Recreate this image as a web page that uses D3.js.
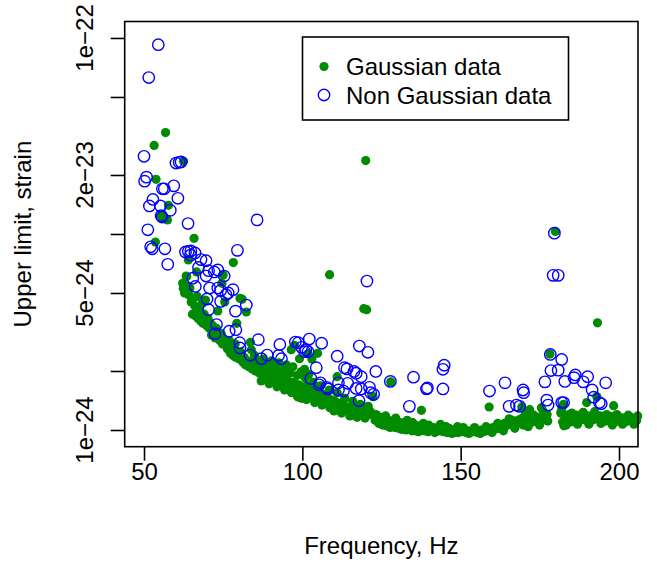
<!DOCTYPE html>
<html><head><meta charset="utf-8">
<script src="https://cdn.jsdelivr.net/npm/d3@7"></script>
<style>body{margin:0;background:#fff} svg{display:block}</style>
</head><body><svg id="c" width="657" height="565"></svg>
<script>
// values in units of 1e-24 strain
const UNIT = 1e-24;

// Gaussian data: isolated points
const gaussOutFreq = [56.8,53.2,53.8,57.7,55.4,55.6,55.8,57.4,53.6,62.5,
  65.8,78.2,64.0,63.5,75.0,74.6,120.0,108.6,119.4,120.3,
  193.2,179.9,178.2,127.9,137.6,159.0,169.3,198.3,189.8,193.0,
  122.3,111.0,104.8,96.5,99.1,100.7,97.5,101.8,103.0,81.0,
  82.3,79.3,73.3,75.5,83.6,83.9,77.0,80.3,62.4,66.6,
  78.8,84.9,87.6,90.3,92.6,94.9,97.0,99.6,102.0];
const gaussOutVal = [32.9,28.3,19.0,14.0,12.4,12.2,12.5,11.8,9.1,23.5,
  9.5,7.15,7.37,6.06,6.18,5.6,23.7,6.2,4.16,4.11,
  3.52,10.3,2.44,1.76,1.26,1.31,1.31,1.33,1.38,1.48,
  1.48,1.87,2.46,2.57,2.31,2.04,2.7,2.45,2.3,4.65,
  4.0,3.5,4.05,4.5,2.8,2.57,2.85,4.7,5.28,6.4,
  2.75,2.4,2.3,2.25,2.2,2.15,2.1,1.98,1.92];

// Gaussian data: main band below 122 Hz
const gaussLowFreq = [62.2,62.8,63.3,63.6,64.1,64.5,64.9,65.3,65.6,66.0,
  66.4,66.8,67.1,67.5,67.9,68.3,68.6,69.0,69.4,69.8,
  70.2,70.6,71.0,71.3,71.7,72.1,72.5,72.9,73.6,74.0,
  74.4,74.8,75.2,75.9,76.3,76.7,77.3,77.7,78.1,78.5,
  78.9,79.7,80.1,80.5,81.2,81.6,82.0,82.7,83.1,84.2,
  84.6,85.2,85.6,86.0,86.5,86.9,87.4,87.8,88.3,88.7,
  89.2,89.7,90.1,90.5,91.0,91.4,91.8,92.3,92.8,93.2,
  93.7,94.1,94.6,95.0,95.4,95.8,96.3,96.8,97.2,97.7,
  98.1,98.5,98.9,99.4,99.8,100.2,101.0,101.5,101.9,102.4,
  102.8,103.2,103.7,104.1,105.1,105.5,106.0,106.4,106.9,107.3,
  107.8,108.2,109.0,109.4,109.9,110.3,110.7,111.3,111.8,112.2,
  112.7,113.1,113.6,114.0,114.3,114.8,115.2,115.7,116.3,116.7,
  117.1,117.6,118.0,118.5,119.0,119.6,120.1,120.6,121.1,121.5,
  122.0,
  86.2,88.9,91.2,93.9,96.0,98.4,100.9,103.4,105.8,108.5,
  111.0,113.4,115.9,118.3,120.8,
  87.0,89.5,92.0,94.4,96.6,99.0,101.3,103.9,106.2,108.7,
  110.0,112.4,115.0,117.3,119.8];
const gaussLowVal = [5.6,5.0,6.1,5.4,4.9,5.3,4.5,3.9,4.7,4.3,
  3.8,4.8,3.7,4.1,3.6,4.4,3.5,3.9,4.6,3.4,
  3.7,3.3,3.5,3.05,3.4,3.2,2.95,3.3,3.0,2.85,
  3.1,2.75,2.9,2.7,2.6,2.8,2.46,2.55,2.4,2.6,
  2.35,2.45,2.3,2.5,2.22,2.35,2.15,2.25,2.1,2.05,
  2.2,2.0,2.12,1.98,1.95,2.1,1.92,2.05,1.9,2.0,
  1.87,1.95,1.85,1.79,1.95,1.82,2.04,1.8,1.9,1.76,
  1.85,1.72,1.82,1.7,1.78,1.99,1.68,1.75,1.65,1.72,
  1.62,1.48,1.7,1.6,1.45,1.66,1.58,1.68,1.55,1.52,
  1.62,1.5,1.6,1.47,1.42,1.55,1.45,1.52,1.4,1.48,
  1.38,1.45,1.31,1.42,1.35,1.4,1.32,1.37,1.3,1.35,
  1.28,1.33,1.27,1.31,1.26,1.3,1.24,1.28,1.23,1.27,
  1.22,1.26,1.24,1.2,1.25,1.22,1.19,1.23,1.2,1.24,
  1.21,
  2.25,2.15,2.1,2.0,1.95,1.9,1.85,1.75,1.68,1.6,
  1.55,1.45,1.4,1.35,1.32,
  1.78,1.72,1.66,1.6,1.55,1.47,1.43,1.38,1.34,1.3,
  1.25,1.22,1.18,1.16,1.15];

// Gaussian data: main band above 122 Hz
const gaussHighFreq = [123.0,123.6,124.2,124.8,125.4,126.0,126.6,127.2,128.0,128.6,
  129.2,129.8,130.4,131.0,131.6,132.2,132.8,133.4,134.0,134.6,
  135.2,135.8,136.4,137.0,137.9,138.5,139.1,139.7,140.3,140.9,
  141.5,142.1,142.7,143.3,143.9,144.5,145.1,145.7,146.3,146.9,
  147.5,148.1,148.7,149.3,149.9,150.5,151.1,151.7,152.3,152.9,
  153.5,154.1,154.7,155.3,155.9,156.5,157.1,157.7,158.3,159.0,
  159.6,160.2,160.8,161.4,162.0,162.6,163.2,163.8,164.4,165.0,
  165.6,166.2,166.8,167.4,168.0,168.6,169.2,169.8,170.4,171.0,
  171.6,172.2,172.8,173.4,174.0,174.6,175.2,175.8,176.4,177.0,
  177.5,181.6,182.0,182.2,182.6,183.0,183.6,184.2,184.8,185.4,
  186.0,186.6,187.2,187.8,188.4,189.0,189.6,190.2,190.8,191.4,
  192.0,192.6,193.4,194.0,194.6,195.2,195.8,196.4,197.0,197.6,
  198.4,199.0,199.6,200.2,200.8,201.4,202.0,202.6,203.2,203.8,
  204.4,205.0,205.6,
  123.3,124.9,126.3,127.7,129.5,131.3,133.1,134.9,136.7,138.2,
  139.9,141.8,143.6,145.4,147.2,149.0,150.8,152.6,154.4,156.2,
  158.0,159.9,161.7,163.5,165.3,167.1,169.5,171.3,173.1,174.9,
  176.7,177.3,181.8,182.4,183.3,185.1,186.9,188.7,190.5,192.3,
  194.3,196.1,197.9,199.3,201.1,202.9,204.7,205.9,
  170.5,171.8,175.5,176.0];
const gaussHighVal = [1.12,1.18,1.08,1.16,1.06,1.14,1.05,1.12,1.04,1.11,
  1.03,1.1,1.02,1.09,1.01,1.08,1.0,1.07,1.03,0.99,
  1.06,0.99,1.05,1.0,1.04,0.99,1.03,0.98,1.04,1.0,
  1.03,0.98,1.02,0.99,1.03,0.98,1.01,0.97,1.02,0.98,
  1.0,0.97,1.01,0.97,0.99,0.98,1.0,0.97,0.99,0.97,
  0.99,0.98,1.0,0.97,0.99,1.0,0.98,1.01,0.99,1.02,
  1.0,1.03,1.01,1.05,1.02,1.06,1.03,1.08,1.05,1.1,
  1.07,1.12,1.06,1.11,1.08,1.13,1.09,1.06,1.11,1.08,
  1.13,1.09,1.15,1.11,1.16,1.1,1.14,1.12,1.17,1.13,
  1.11,1.22,1.3,1.1,1.05,1.18,1.12,1.2,1.1,1.16,
  1.12,1.19,1.11,1.17,1.13,1.2,1.12,1.18,1.11,1.16,
  1.13,1.2,1.14,1.18,1.12,1.17,1.11,1.15,1.12,1.17,
  1.1,1.15,1.11,1.16,1.12,1.15,1.1,1.14,1.12,1.16,
  1.11,1.14,1.12,
  1.2,1.1,1.18,1.03,1.15,1.01,1.12,1.09,0.98,1.08,
  1.06,0.97,1.07,1.04,0.96,1.04,1.03,0.96,1.03,0.96,
  1.04,0.97,1.08,0.99,1.14,1.02,1.15,1.04,1.19,1.06,
  1.21,1.2,1.25,1.35,1.06,1.22,1.07,1.23,1.07,1.24,
  1.08,1.2,1.06,1.2,1.07,1.19,1.07,1.18,
  1.22,1.27,1.3,1.25];

// Non Gaussian data
const nonGaussFreq = [54.5,51.5,50.0,50.8,50.2,55.8,56.4,59.4,60.7,52.8,
  51.7,55.2,58.3,55.4,55.7,51.2,52.1,52.6,56.6,57.5,
  60.1,61.1,61.7,63.9,85.7,79.5,63.1,64.0,64.8,64.7,
  66.1,68.0,69.6,67.2,70.4,72.2,73.3,65.4,69.6,75.3,
  66.2,70.7,73.3,74.2,76.6,78.1,75.9,69.9,74.2,70.4,
  78.9,82.3,72.9,72.4,76.9,79.0,80.2,86.1,92.9,97.8,
  98.7,102.2,106.1,80.3,83.5,87.1,88.9,92.5,93.4,99.8,
  101.1,101.8,100.7,111.0,118.0,120.7,120.4,104.4,113.3,114.1,
  116.3,117.0,118.6,123.2,102.7,105.7,105.3,107.7,108.1,111.4,
  114.3,111.4,113.0,117.0,118.6,121.2,121.6,122.5,117.9,127.8,
  135.1,139.2,139.5,144.4,144.4,144.8,133.8,159.1,164.0,169.7,
  169.9,165.3,167.6,168.6,179.6,179.2,180.8,178.3,181.9,178.5,
  180.8,176.6,182.9,177.2,177.6,181.9,182.5,186.2,185.8,190.1,
  188.7,195.8,191.5,192.0,193.8,194.4];
const nonGaussVal = [92.4,62.8,24.9,19.5,18.6,17.0,17.0,17.6,15.2,15.0,
  13.9,13.9,13.2,12.4,12.2,10.5,8.6,8.4,8.4,7.0,
  23.0,23.2,23.3,11.3,11.8,8.25,8.1,8.15,8.2,7.8,
  8.0,7.4,7.3,6.75,6.5,6.4,6.55,5.95,6.1,6.1,
  5.4,5.3,5.3,5.15,5.0,5.2,4.9,4.66,4.53,4.11,
  4.04,4.34,3.45,3.1,3.19,3.25,2.79,2.89,2.73,2.81,
  2.79,2.91,2.77,2.62,2.41,2.31,2.41,2.40,2.31,2.64,
  2.57,2.51,2.51,2.38,2.68,2.49,5.75,2.08,2.08,2.05,
  1.99,1.95,1.87,1.99,1.83,1.74,1.70,1.65,1.62,1.74,
  1.73,1.60,1.58,1.63,1.62,1.65,1.55,1.52,1.41,1.77,
  1.86,1.62,1.64,1.62,2.04,2.14,1.32,1.58,1.74,1.60,
  1.55,1.32,1.34,1.32,10.1,6.15,6.15,2.43,2.29,2.01,
  2.02,1.76,1.77,1.42,1.34,1.38,1.38,1.91,1.85,1.87,
  1.76,1.74,1.60,1.47,1.38,1.36];

const xTicks = [50, 100, 150, 200];
const yTicks = [1e-22, 5e-23, 2e-23, 1e-23, 5e-24, 2e-24, 1e-24];
const yTickLabels = ["1e\u221222", "", "2e\u221223", "", "5e\u221224", "", "1e\u221224"];
const legendLabels = ["Gaussian data", "Non Gaussian data"];
const xTitle = "Frequency, Hz";
const yTitle = "Upper limit, strain";

const GREEN = "#008b00", BLUE = "#0000ff";
const FONT = "'Liberation Sans', Arial, Helvetica, sans-serif";
const FS = 24;
const RDOT = 4.6, RCIRC = 5.7;

const L = 124.7, R = 638, T = 21.5, B = 446.7;
const x = d3.scaleLinear().domain([43.9, 206.0]).range([L, R]);
const y = d3.scaleLog().domain([UNIT * Math.pow(10, -0.0852), UNIT * Math.pow(10, 2.084)]).range([B, T]);

const svg = d3.select("#c");
svg.append("rect").attr("width", 657).attr("height", 565).attr("fill", "#fff");

const gauss = [];
[[gaussLowFreq, gaussLowVal], [gaussHighFreq, gaussHighVal], [gaussOutFreq, gaussOutVal]].forEach(([f, v]) => {
  f.forEach((d, i) => gauss.push({f: d, v: v[i] * UNIT}));
});
const nonGauss = nonGaussFreq.map((d, i) => ({f: d, v: nonGaussVal[i] * UNIT}));

// points
svg.append("g").selectAll("circle").data(gauss).join("circle")
  .attr("cx", d => x(d.f)).attr("cy", d => y(d.v)).attr("r", RDOT).attr("fill", GREEN);
svg.append("g").selectAll("circle").data(nonGauss).join("circle")
  .attr("cx", d => x(d.f)).attr("cy", d => y(d.v)).attr("r", RCIRC)
  .attr("fill", "none").attr("stroke", BLUE).attr("stroke-width", 1.4);

// box
svg.append("rect").attr("x", L).attr("y", T).attr("width", R - L).attr("height", B - T)
  .attr("fill", "none").attr("stroke", "#000").attr("stroke-width", 1.6);

// x axis
const gx = svg.append("g").attr("transform", `translate(0,${B})`)
  .call(d3.axisBottom(x).tickValues(xTicks).tickSize(14).tickSizeOuter(0).tickPadding(2.2).tickFormat(d3.format("d")));
gx.select(".domain").remove();
gx.selectAll(".tick line").attr("stroke", "#000").attr("stroke-width", 1.6);
gx.selectAll(".tick text").attr("font-family", FONT).attr("font-size", FS).attr("fill", "#000");

// y axis
const gy = svg.append("g").attr("transform", `translate(${L},0)`)
  .call(d3.axisLeft(y).tickValues(yTicks).tickSize(14).tickSizeOuter(0).tickFormat(""));
gy.select(".domain").remove();
gy.selectAll(".tick line").attr("stroke", "#000").attr("stroke-width", 1.6);
svg.append("g").selectAll("text").data(yTicks.filter((d, i) => yTickLabels[i])).join("text")
  .attr("transform", d => `translate(92.5,${y(d)}) rotate(-90)`)
  .attr("text-anchor", "middle").attr("font-family", FONT).attr("font-size", FS)
  .text(d => yTickLabels[yTicks.indexOf(d)]);

// titles
svg.append("text").attr("x", (L + R) / 2).attr("y", 554).attr("text-anchor", "middle")
  .attr("font-family", FONT).attr("font-size", FS).text(xTitle);
svg.append("text").attr("transform", `translate(31,${(T + B) / 2}) rotate(-90)`).attr("text-anchor", "middle")
  .attr("font-family", FONT).attr("font-size", FS).text(yTitle);

// legend
const lg = svg.append("g");
lg.append("rect").attr("x", 302.5).attr("y", 37).attr("width", 266).attr("height", 83)
  .attr("fill", "#fff").attr("stroke", "#000").attr("stroke-width", 1.6);
legendLabels.forEach((t, i) => {
  const cy = 66.5 + i * 28.5;
  if (i === 0) lg.append("circle").attr("cx", 324).attr("cy", cy).attr("r", RDOT).attr("fill", GREEN);
  else lg.append("circle").attr("cx", 324).attr("cy", cy).attr("r", RCIRC).attr("fill", "none").attr("stroke", BLUE).attr("stroke-width", 1.4);
  lg.append("text").attr("x", 346).attr("y", cy + 8.5).attr("font-family", FONT).attr("font-size", FS).text(t);
});
</script></body></html>
